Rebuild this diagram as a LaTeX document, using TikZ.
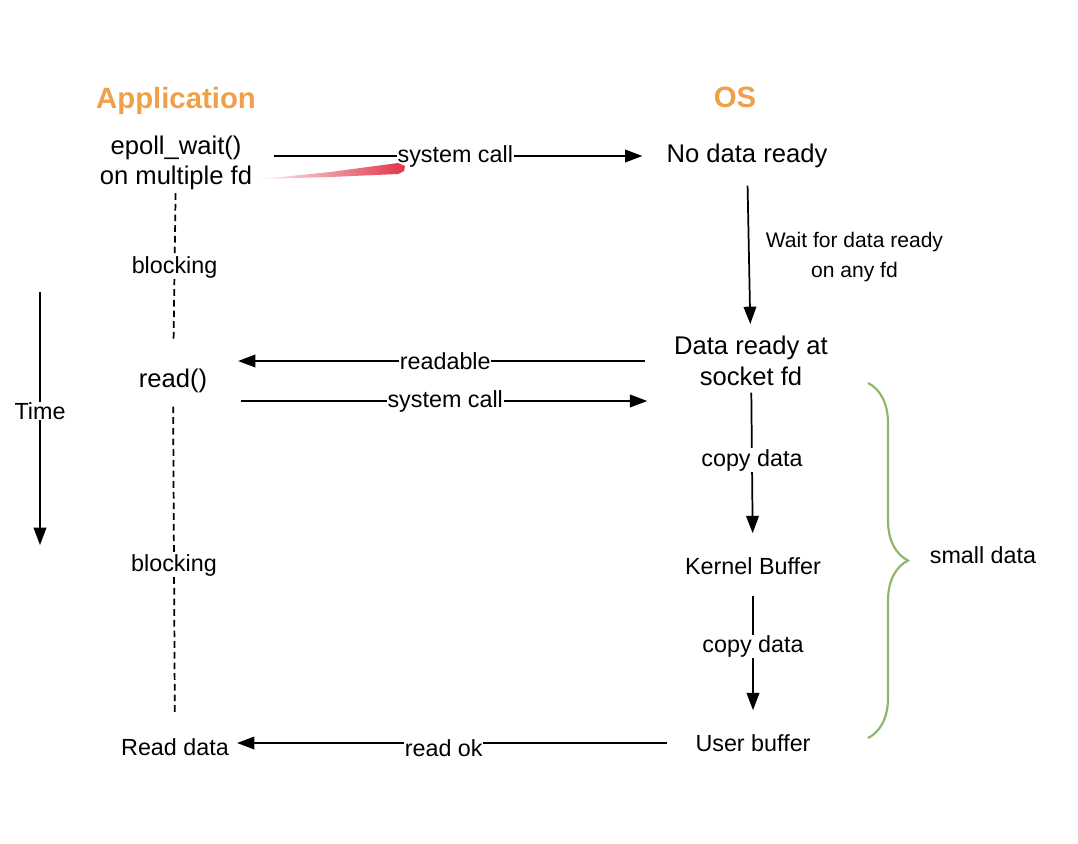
\documentclass[tikz,border=0pt]{standalone}
\usepackage{fontspec}
\setmainfont{Liberation Sans}
\usetikzlibrary{arrows.meta,decorations.pathreplacing}

\definecolor{headorange}{RGB}{240,160,72}
\definecolor{bracegreen}{RGB}{142,182,104}
\definecolor{penred}{RGB}{226,52,72}

\tikzset{
  stage/.style={font=\fontsize{17.5}{22}\selectfont, align=center, inner sep=2pt},
  big stage/.style={stage, font=\fontsize{19.2}{23}\selectfont},
  head/.style={font=\fontsize{22}{26}\selectfont\bfseries, text=headorange},
  call/.style={-{Triangle[length=13pt,width=9.5pt]}, line width=1.3pt},
  on line/.style={fill=white, inner sep=0.5pt, font=\fontsize{17.5}{22}\selectfont},
  wait/.style={dash pattern=on 5pt off 3pt, line width=1.3pt},
}

\begin{document}
\begin{tikzpicture}[x=0.75pt, y=-0.75pt]
  \useasboundingbox (0,0) rectangle (1078,843);

  % headings
  \node[head] (app) at (176,101) {Application};
  \node[head] (os) at (735,97) {OS};

  % application side
  \node[big stage] (epoll) at (176,163) {epoll\_wait()\\on multiple fd};
  \node[big stage] (read) at (173,381) {read()};
  \node[stage] (done) at (175,747) {Read data};

  % os side
  \node[big stage] (nodata) at (747,156) {No data ready};
  \node[big stage] (ready) at (751,361) {Data ready at\\socket fd};
  \node[stage] (kbuf) at (753,566) {Kernel Buffer};
  \node[stage] (ubuf) at (753,743) {User buffer};

  % time axis
  \coordinate (ttop) at (40,292);
  \coordinate (tend) at (40,545);
  \draw[call] (ttop) -- (tend) node[on line, pos=0.47] {Time};

  % calls between both sides
  \draw[call, shorten <=14pt, shorten >=16pt] (epoll.east |- nodata.west) -- (nodata.west)
    node[on line, pos=0.49] {system call};
  \draw[call, shorten <=20pt, shorten >=21pt] (ready.west) -- (read.east |- ready.west)
    node[on line, pos=0.49] {readable};
  \draw[call, shorten <=23pt, shorten >=18pt] ([yshift=-15pt]read.east) -- ([yshift=-30pt]ready.west)
    node[on line, pos=0.51] {system call};
  \draw[call, shorten <=19pt, shorten >=4pt] (ubuf.west) -- (done.east |- ubuf.west)
    node[on line, pos=0.54, yshift=-4pt] {read ok};

  % blocking
  \draw[wait, shorten >=19pt] (epoll) -- (read)
    node[on line, pos=0.43] {blocking};
  \draw[wait, shorten <=8pt, shorten >=16pt] (read) -- (done)
    node[on line, pos=0.5] {blocking};

  % inside the kernel
  \draw[call, shorten <=11pt, shorten >=7pt] (nodata) -- (ready)
    node[stage, anchor=west, xshift=10pt, pos=0.53, font=\fontsize{15.8}{22}\selectfont] {Wait for data ready\\on any fd};
  \draw[call, shorten <=3pt, shorten >=16pt] (ready) -- (kbuf)
    node[on line, pos=0.43] {copy data};
  \draw[call, shorten <=14pt, shorten >=16pt] (kbuf) -- (ubuf)
    node[on line, pos=0.45] {copy data};

  % brace over the copies
  \draw[bracegreen, line width=1.6pt, decorate, decoration={brace, amplitude=30pt}]
    (868,383) -- (868,738);
  \node[stage] (small) at (983,555) {small data};

  % pen mark
  \shade[left color=penred!10, right color=penred]
    (262,179) -- (330,172) -- (398,163) -- (405,166) -- (404,171) -- (398,174) -- (330,177) -- cycle;
\end{tikzpicture}
\end{document}
